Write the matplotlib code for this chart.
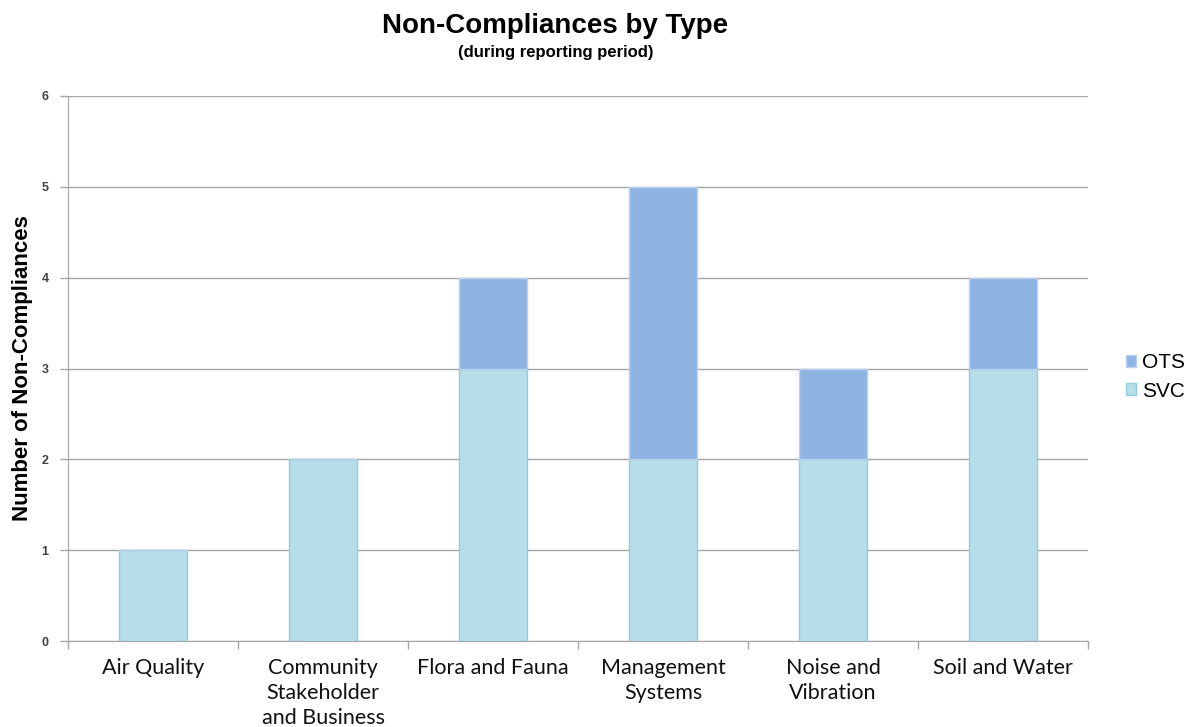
import matplotlib
matplotlib.use("Agg")
import matplotlib.pyplot as plt
import numpy as np

categories = ["Air Quality", "Community\nStakeholder\nand Business", "Flora and Fauna",
              "Management\nSystems", "Noise and\nVibration", "Soil and Water"]
svc = [1, 2, 3, 2, 2, 3]
ots = [0, 0, 1, 3, 1, 1]
y_ticks = [0, 1, 2, 3, 4, 5, 6]

svc_color = "#B7DDE8"
svc_edge = "#93CDDD"
ots_color = "#8EB4E3"
ots_edge = "#B9D1EE"
grid_color = "#A6A6A6"

fig = plt.figure(figsize=(11.96, 7.27), dpi=100)
ax = fig.add_axes([68 / 1196, 86 / 727, 1020 / 1196, 545 / 727])

x = np.arange(len(categories))
ax.bar(x, svc, width=0.4, color=svc_color, edgecolor=svc_edge, linewidth=1, label="SVC", zorder=3)
ax.bar(x, ots, width=0.4, bottom=svc, color=ots_color, edgecolor=ots_edge, linewidth=1,
       label="OTS", zorder=3)

ax.set_xlim(-0.5, len(categories) - 0.5)
ax.set_ylim(0, 6)
ax.set_yticks(y_ticks)
ax.set_yticklabels([str(v) for v in y_ticks], fontsize=9, fontweight="bold",
                   color="#404040", family=["Liberation Sans", "DejaVu Sans"])
ax.yaxis.grid(True, color=grid_color, linewidth=1, zorder=0)
ax.set_axisbelow(True)

ax.set_xticks(x)
ax.set_xticklabels(categories, fontsize=15.5, family=["Lato", "DejaVu Sans"], color="#111111",
                   linespacing=1.33, va="top")
ax.set_xticks(np.arange(len(categories) + 1) - 0.5, minor=True)
ax.tick_params(axis="x", which="major", length=0, pad=12)
ax.tick_params(axis="x", which="minor", length=6, color=grid_color, width=1)
ax.tick_params(axis="y", length=6, color=grid_color, width=1, pad=8)

for side in ("top", "right"):
    ax.spines[side].set_visible(False)
ax.spines["left"].set_color(grid_color)
ax.spines["bottom"].set_color(grid_color)

ax.set_ylabel("Number of Non-Compliances", fontsize=16, fontweight="bold",
              family=["Liberation Sans", "DejaVu Sans"])
ax.yaxis.set_label_coords(-35 / 1020, 0.5)

fig.text(555 / 1196, 1 - 26 / 727, "Non-Compliances by Type", ha="center", va="center",
         fontsize=20, fontweight="bold", family=["Liberation Sans", "DejaVu Sans"])
fig.text(556 / 1196, 1 - 52 / 727, "(during reporting period)", ha="center", va="center",
         fontsize=12, fontweight="bold", family=["Liberation Sans", "DejaVu Sans"])

handles, labels = ax.get_legend_handles_labels()
leg = fig.legend(handles[::-1], labels[::-1], loc="center left",
                 bbox_to_anchor=(1107 / 1196, 1 - 377 / 727), frameon=False,
                 prop={"family": ["Liberation Sans", "DejaVu Sans"], "size": 15},
                 handlelength=0.5, handleheight=0.5, handletextpad=0.3, labelspacing=0.45)

fig.savefig("out.png", dpi=100, facecolor="white")
